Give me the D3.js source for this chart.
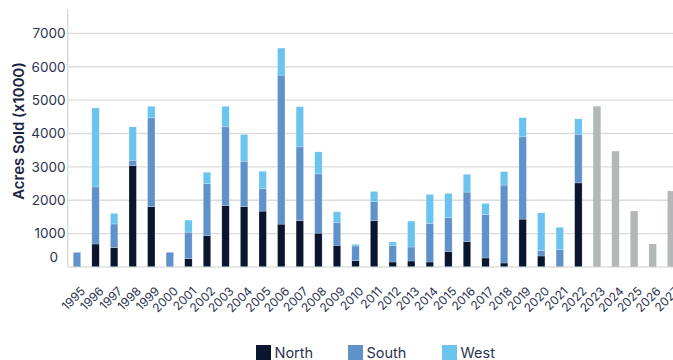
<!DOCTYPE html>
<html>
<head>
<meta charset="utf-8">
<script src="https://cdn.jsdelivr.net/npm/d3@7"></script>
<style>
  body { margin: 0; background: #fff; }
  svg { display: block; font-family: Inter, "Noto Sans", sans-serif; }
</style>
</head>
<body>
<svg id="chart" width="673" height="360"></svg>
<script>
// values (acres x1000)
var years = ['1995','1996','1997','1998','1999','2000','2001','2002','2003','2004','2005',
  '2006','2007','2008','2009','2010','2011','2012','2013','2014','2015','2016','2017',
  '2018','2019','2020','2021','2022','2023','2024','2025','2026','2027'];
var north = [0,690,580,3040,1805,0,250,940,1835,1805,1675,1285,1385,1015,650,190,1385,150,
  180,150,460,760,270,120,1435,330,0,2520,0,0,0,0,0];
var south = [440,1710,710,160,2665,440,795,1555,2365,1365,680,4465,2215,1775,675,440,570,490,
  420,1145,1015,1485,1305,2335,2465,160,520,1460,0,0,0,0,0];
var west = [0,2365,315,1000,345,0,360,345,615,800,515,810,1205,660,330,50,310,110,
  775,880,730,535,330,405,575,1135,670,460,0,0,0,0,0];
var forecast = [0,0,0,0,0,0,0,0,0,0,0,0,0,0,0,0,0,0,0,0,0,0,0,0,0,0,0,0,4815,3470,1675,690,2275];
var yTicks = [0,1000,2000,3000,4000,5000,6000,7000];

var seriesNames = ['North', 'South', 'West'];
var colors = { North: '#0a1530', South: '#5f92cb', West: '#6bc4ef' };
var grey = '#b3b7b7';
var textColor = '#2b3350';

var svg = d3.select('#chart');
var plotLeft = 67.7, plotBottom = 267, plotTop = 33.4;

var x = d3.scaleBand()
  .domain(years)
  .range([plotLeft, plotLeft + 18.57 * years.length])
  .paddingInner(0.6)
  .paddingOuter(0.3);

var y = d3.scaleLinear()
  .domain([0, 7000])
  .range([plotBottom, plotTop]);

// gridlines
svg.append('g')
  .selectAll('line')
  .data(yTicks.filter(function(d) { return d > 0; }))
  .enter().append('line')
    .attr('x1', plotLeft).attr('x2', 673)
    .attr('y1', function(d) { return y(d); })
    .attr('y2', function(d) { return y(d); })
    .attr('stroke', '#dcdcdc')
    .attr('stroke-width', 1.3);

// stacked bars
var table = years.map(function(yr, i) {
  return { year: yr, North: north[i], South: south[i], West: west[i], forecast: forecast[i] };
});
var stacked = d3.stack().keys(seriesNames)(table);

svg.append('g')
  .selectAll('g')
  .data(stacked)
  .enter().append('g')
    .attr('fill', function(d) { return colors[d.key]; })
  .selectAll('rect')
  .data(function(d) { return d.filter(function(p) { return p[1] > p[0]; }); })
  .enter().append('rect')
    .attr('x', function(d) { return x(d.data.year); })
    .attr('width', x.bandwidth())
    .attr('y', function(d) { return y(d[1]); })
    .attr('height', function(d) { return y(d[0]) - y(d[1]); })
    .attr('stroke', 'rgba(255,255,255,0.45)')
    .attr('stroke-width', 0.5);

svg.append('g')
  .selectAll('rect')
  .data(table.filter(function(d) { return d.forecast > 0; }))
  .enter().append('rect')
    .attr('x', function(d) { return x(d.year); })
    .attr('width', x.bandwidth())
    .attr('y', function(d) { return y(d.forecast); })
    .attr('height', function(d) { return plotBottom - y(d.forecast); })
    .attr('fill', grey);

// axes lines
svg.append('line')
  .attr('x1', plotLeft).attr('x2', plotLeft)
  .attr('y1', 9).attr('y2', plotBottom)
  .attr('stroke', '#d4d4d4').attr('stroke-width', 1.2);
svg.append('line')
  .attr('x1', plotLeft).attr('x2', 673)
  .attr('y1', plotBottom).attr('y2', plotBottom)
  .attr('stroke', '#cfcfcf').attr('stroke-width', 1.2);

// y tick labels (the zero label sits a little up and left in the original)
svg.append('g')
  .selectAll('text')
  .data(yTicks)
  .enter().append('text')
    .attr('x', function(d) { return d === 0 ? 58 : 65.5; })
    .attr('y', function(d) { return d === 0 ? y(d) - 10 : y(d); })
    .attr('dy', '0.36em')
    .attr('text-anchor', 'end')
    .attr('font-size', 13.5)
    .attr('fill', textColor)
    .text(function(d) { return d; });

// y title
svg.append('text')
  .attr('transform', 'translate(24,131) rotate(-90)')
  .attr('text-anchor', 'middle')
  .attr('font-size', 15)
  .attr('font-weight', 600)
  .attr('fill', '#1a2440')
  .text('Acres Sold (x1000)');

// x labels
svg.append('g')
  .selectAll('text')
  .data(years)
  .enter().append('text')
    .attr('transform', function(d) {
      return 'translate(' + (x(d) + x.bandwidth() / 2 + 3) + ',286) rotate(-45)';
    })
    .attr('text-anchor', 'end')
    .attr('dy', '0.7em')
    .attr('font-size', 12)
    .attr('fill', textColor)
    .text(function(d) { return d; });

// legend
var legendX = { North: 256, South: 348, West: 442 };
var legend = svg.append('g')
  .selectAll('g')
  .data(seriesNames)
  .enter().append('g')
    .attr('transform', function(d) { return 'translate(' + legendX[d] + ',0)'; });
legend.append('rect')
  .attr('x', 0).attr('y', 345)
  .attr('width', 15).attr('height', 15)
  .attr('fill', function(d) { return colors[d]; });
legend.append('text')
  .attr('x', 18.5).attr('y', 358)
  .attr('font-size', 14.5)
  .attr('fill', textColor)
  .text(function(d) { return d; });
</script>
</body>
</html>
